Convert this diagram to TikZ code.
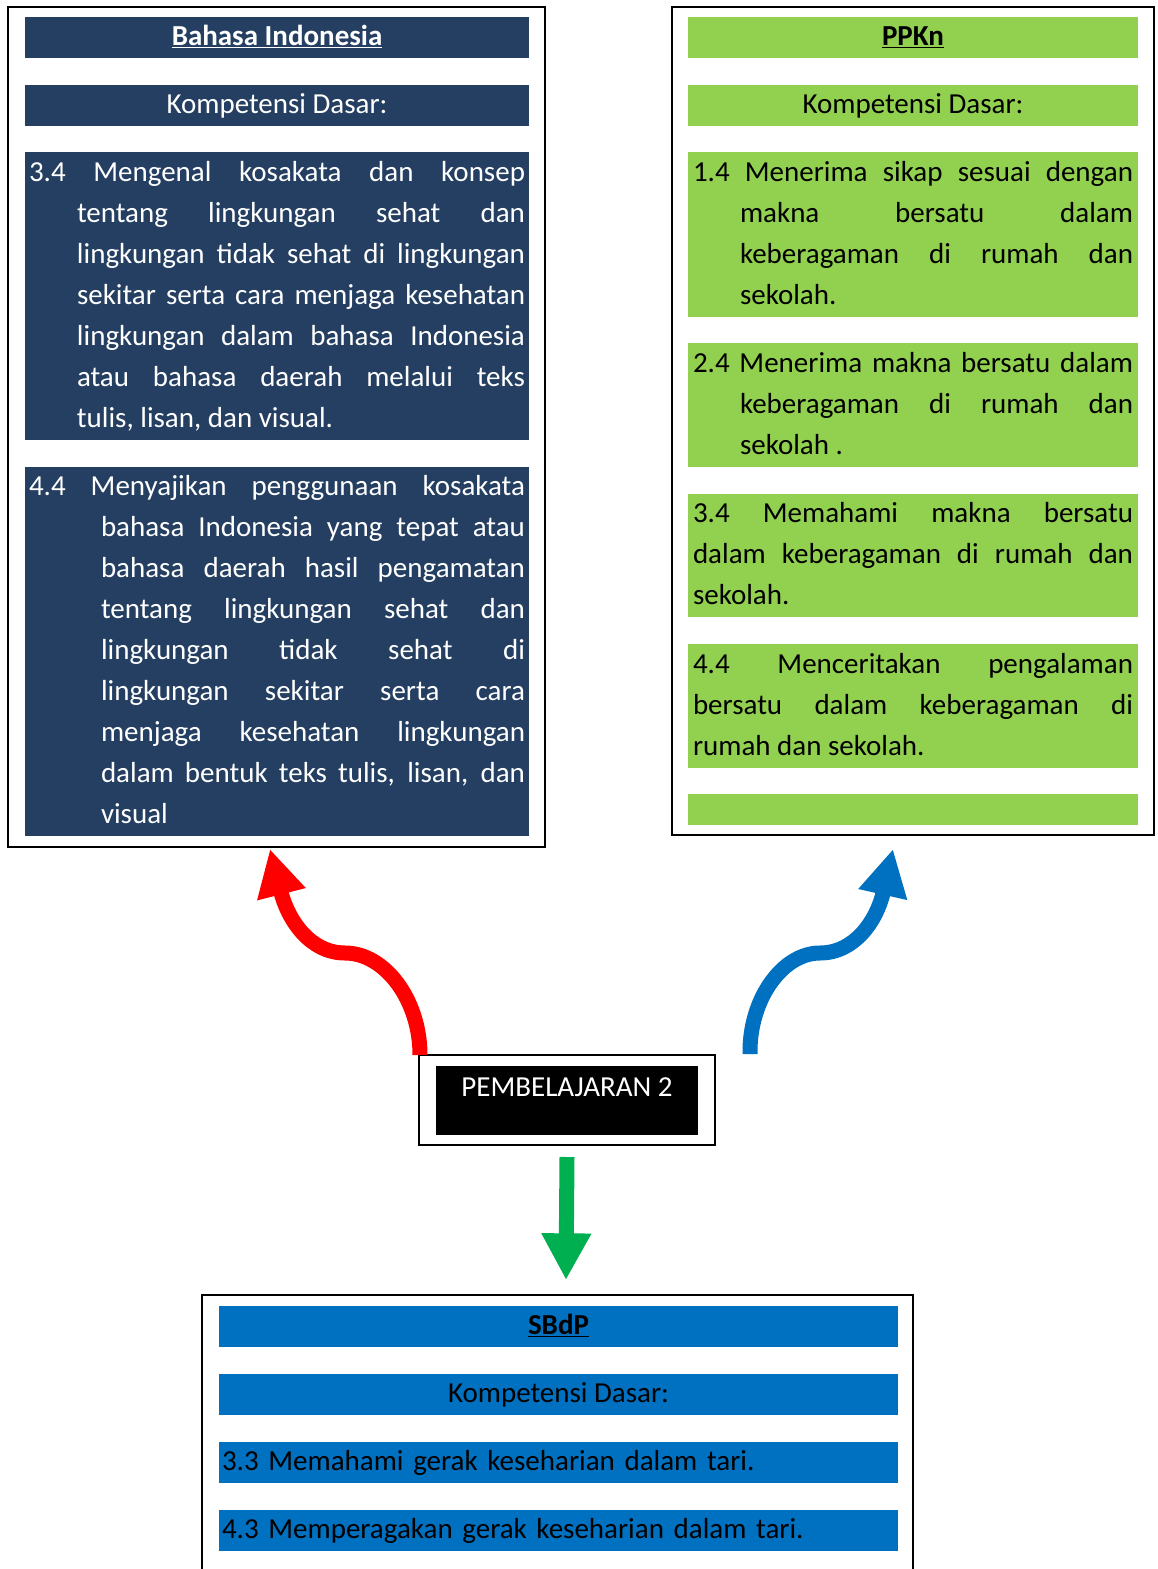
\documentclass[tikz,border=0pt]{standalone}
\usepackage{fontspec}
\setmainfont{Carlito}
\usepackage{xcolor}
\usetikzlibrary{arrows.meta,calc,positioning}
\definecolor{navy}{RGB}{36,63,97}
\definecolor{leaf}{RGB}{146,208,80}
\definecolor{sky}{RGB}{0,112,192}
\definecolor{grass}{RGB}{0,176,80}
\tolerance=10000 \hbadness=10000
% justified block with hanging indent: width, indent, text
\newcommand{\kdtext}[3]{\parbox[c]{#1}{\hangindent=#2\hangafter=1\strut #3\strut}}

\begin{document}
\begin{tikzpicture}
	[ x=0.75pt, y=-0.75pt,
	  box/.style={ draw, line width=1.5pt, inner sep=0pt },
	  bar/.style={ inner sep=0pt, minimum height=30.75pt, font=\fontsize{21.75}{30.75}\selectfont },
	  one/.style={ text height=21.5pt, text depth=9.25pt },
	  lbar/.style={ bar, fill=navy, text=white, minimum width=378pt },
	  rbar/.style={ bar, fill=leaf, minimum width=337.5pt },
	  bbar/.style={ bar, fill=sky, minimum width=509.25pt },
	  btxt/.style={ bbar, text width=504.75pt, inner xsep=2.25pt, align=left },
	  thick arrow/.style={ line width=11.25pt, -{Triangle[length=35pt,width=35pt]} }
	]
	\useasboundingbox (0,0) rectangle (1157,1569);

	% Bahasa Indonesia
	\node[box, minimum width=402.75pt, minimum height=630pt] (lbox) at (276.5,427) {};
	\node[lbar, one] (ltitle) at (277,37.5) {\underline{\textbf{Bahasa Indonesia}}};
	\node[lbar, one] (lkd) at (277,105.5) {Kompetensi Dasar:};
	\node[lbar, minimum height=216pt] (lkd1) at (277,296) {\kdtext{372pt}{36pt}{%
	  3.4 Mengenal kosakata dan konsep\linebreak tentang lingkungan sehat dan\linebreak
	  lingkungan tidak sehat di lingkungan\linebreak sekitar serta cara menjaga kesehatan\linebreak
	  lingkungan dalam bahasa Indonesia\linebreak atau bahasa daerah melalui teks\linebreak
	  tulis, lisan, dan visual.}};
	\node[lbar, minimum height=276.75pt] (lkd2) at (277,651.5) {\kdtext{372pt}{54pt}{%
	  4.4 Menyajikan penggunaan kosakata\linebreak bahasa Indonesia yang tepat atau\linebreak
	  bahasa daerah hasil pengamatan\linebreak tentang lingkungan sehat dan\linebreak
	  lingkungan tidak sehat di\linebreak lingkungan sekitar serta cara\linebreak
	  menjaga kesehatan lingkungan\linebreak dalam bentuk teks tulis, lisan, dan\linebreak
	  visual}};

	% PPKn
	\node[box, minimum width=361.5pt, minimum height=621pt] (rbox) at (913,421) {};
	\node[rbar, one] (rtitle) at (913,37.5) {\underline{\textbf{PPKn}}};
	\node[rbar, one] (rkd) at (913,105.5) {Kompetensi Dasar:};
	\node[rbar, minimum height=123.75pt] (rkd1) at (913,234.5) {\kdtext{330pt}{35.25pt}{%
	  1.4 Menerima sikap sesuai dengan\linebreak makna bersatu dalam\linebreak
	  keberagaman di rumah dan\linebreak sekolah.}};
	\node[rbar, minimum height=93pt] (rkd2) at (913,405) {\kdtext{330pt}{35.25pt}{%
	  2.4 Menerima makna bersatu dalam\linebreak keberagaman di rumah dan\linebreak
	  sekolah .}};
	\node[rbar, minimum height=92.25pt] (rkd3) at (913,555.5) {\kdtext{330pt}{0pt}{%
	  3.4 Memahami makna bersatu\linebreak dalam keberagaman di rumah dan\linebreak
	  sekolah.}};
	\node[rbar, minimum height=93pt] (rkd4) at (913,706) {\kdtext{330pt}{0pt}{%
	  4.4 Menceritakan pengalaman\linebreak bersatu dalam keberagaman di\linebreak
	  rumah dan sekolah.}};
	\node[rbar, minimum height=23.25pt] (rkd5) at (913,809.5) {};

	% Pembelajaran
	\node[box, minimum width=222pt, minimum height=67.5pt] (pbframe) at (567,1100) {};
	\node[fill=black, text=white, inner sep=0pt, minimum width=196.5pt, text height=22.5pt, text depth=29.25pt,
	  font=\fontsize{21.75}{30.75}\selectfont] (pb) at (567,1100.5) {PEMBELAJARAN 2};

	% SBdP
	\node[box, minimum width=533.25pt, minimum height=210pt] (sbox) at (557.5,1435) {};
	\node[bbar, one] (stitle) at (558.5,1326.5) {\underline{\textbf{SBdP}}};
	\node[bbar, one] (skd) at (558.5,1394.5) {Kompetensi Dasar:};
	\node[btxt] (skd1) at (558.5,1462.5) {\strut 3.3 Memahami gerak keseharian dalam tari.};
	\node[btxt] (skd2) at (558.5,1530.5) {\strut 4.3 Memperagakan gerak keseharian dalam tari.};

	% arrows
	\coordinate (redstart) at (420,1055);
	\coordinate (bluestart) at ($(pbframe.north east)+(34,0)$);
	\coordinate (gtop) at ($(pbframe.south)+(0,11)$);
	\coordinate (gtip) at ($(gtop |- sbox.north)+(-1,-14)$);
	\draw[thick arrow, red] (redstart) .. controls (420,1000) and (385,953) .. (345,953)
	  .. controls (310,953) and (288,920) .. ([xshift=-4.9pt,yshift=-0.75pt]lbox.south);
	\draw[thick arrow, sky] (bluestart) .. controls (749,1000) and (782,953) .. (820,953)
	  .. controls (855,953) and (877,920) .. ([xshift=-15pt,yshift=-9.75pt]rbox.south);
	\draw[thick arrow, grass] (gtop) -- (gtip);
\end{tikzpicture}
\end{document}
